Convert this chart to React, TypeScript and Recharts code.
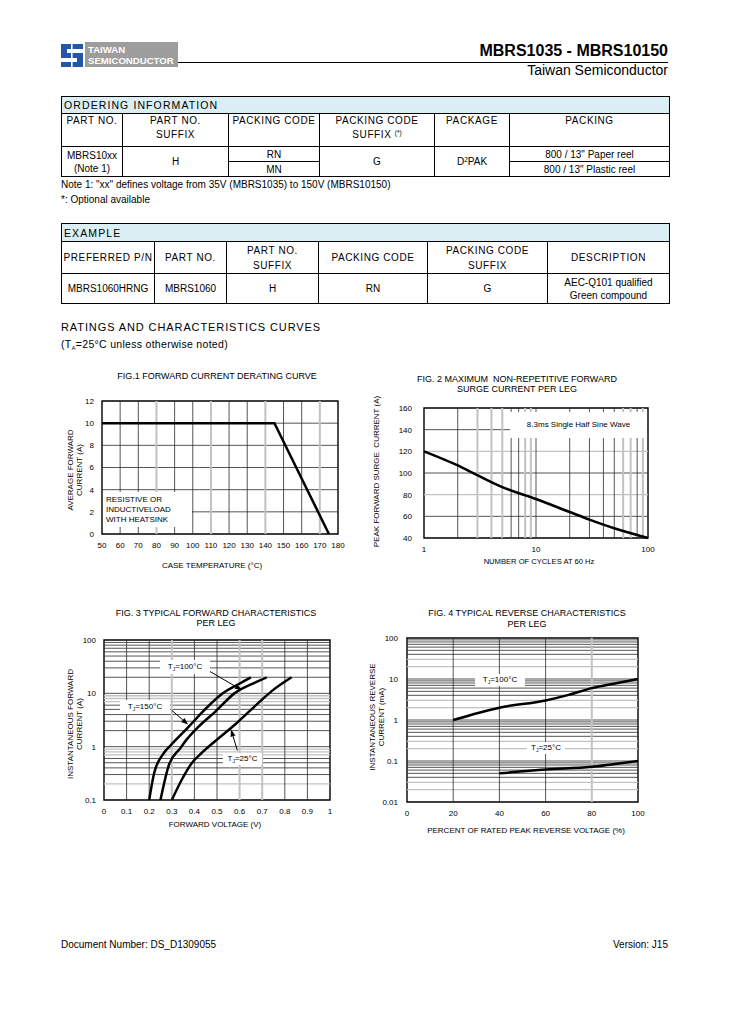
import React from 'react';
import { LineChart, Line, XAxis, YAxis, ReferenceLine, ReferenceArea } from 'recharts';

const FONT = '"Liberation Sans", Arial, Helvetica, sans-serif';
const DARK = '#2a2a2a';
const GRAY = '#c2c2c2';

// ---------- FIG.1 forward current derating ----------
const fig1Temp = [50, 145, 175];
const fig1Current = [10, 10, 0];
const fig1XTicks = [50, 60, 70, 80, 90, 100, 110, 120, 130, 140, 150, 160, 170, 180];
const fig1YTicks = [0, 2, 4, 6, 8, 10, 12];
const fig1GridXDark = [60, 70, 90, 100, 120, 130, 150, 160];
const fig1GridXGray = [80, 110, 140, 170];
const fig1GridY = [2, 4, 6, 8, 10];

// ---------- FIG.2 surge current ----------
const fig2Cycles = [1, 2, 3, 5, 10, 20, 30, 50, 100];
const fig2Surge = [120, 107, 98, 87, 76, 64, 57, 49, 40];
const fig2XTicks = [1, 10, 100];
const fig2YTicks = [40, 60, 80, 100, 120, 140, 160];
const fig2GridXDark = [2, 6, 7, 10, 20, 30, 40, 50, 80];
const fig2GridXGray = [3, 4, 5, 8, 9, 60, 70, 90];
const fig2GridYDark = [60, 100, 140];
const fig2GridYGray = [80, 120];

// ---------- FIG.3 forward characteristics ----------
const fig3V150 = [0.2, 0.222, 0.265, 0.295, 0.37, 0.447, 0.52, 0.594, 0.65];
const fig3I150 = [0.1, 0.32, 0.76, 1.06, 2.25, 5.0, 9.6, 14.8, 20];
const fig3V100 = [0.25, 0.287, 0.338, 0.368, 0.415, 0.494, 0.58, 0.668, 0.72];
const fig3I100 = [0.1, 0.45, 0.94, 1.4, 2.3, 4.6, 10.2, 15.9, 20];
const fig3V25 = [0.3, 0.344, 0.388, 0.432, 0.491, 0.58, 0.668, 0.742, 0.83];
const fig3I25 = [0.1, 0.24, 0.49, 0.76, 1.26, 2.6, 5.76, 11, 20];
const fig3XTicks = [0, 0.1, 0.2, 0.3, 0.4, 0.5, 0.6, 0.7, 0.8, 0.9, 1];
const fig3YTicks = [0.1, 1, 10, 100];
const fig3GridXDark = [0.1, 0.2, 0.4, 0.5, 0.8, 0.9];
const fig3GridXGray = [0.3, 0.6, 0.7];
const fig3GridYDark = [0.3, 0.4, 0.5, 0.6, 1, 2, 3, 4, 5, 6, 10, 20, 30, 40, 50, 60, 70, 80, 90];
const fig3GridYGray = [0.2, 0.7, 0.8, 0.9, 7, 8, 9];
const fig3Arrow100 = [{ x: 0.46, y: 27 }, { x: 0.61, y: 11.5 }];
const fig3Arrow150 = [{ x: 0.3, y: 4.8 }, { x: 0.372, y: 2.6 }];
const fig3Arrow25 = [{ x: 0.59, y: 0.85 }, { x: 0.562, y: 2.1 }];

// ---------- FIG.4 reverse characteristics ----------
const fig4P100 = [20, 40, 60, 70, 80, 90, 100];
const fig4I100 = [1, 2, 3, 4.1, 6, 7.8, 10];
const fig4P25 = [40, 60, 80, 90, 100];
const fig4I25 = [0.05, 0.062, 0.072, 0.085, 0.1];
const fig4XTicks = [0, 20, 40, 60, 80, 100];
const fig4YTicks = [0.01, 0.1, 1, 10, 100];
const fig4GridXDark = [20, 40, 60];
const fig4GridXGray = [80];
const fig4GridYDark = [0.04, 0.05, 0.06, 0.07, 0.08, 0.09, 0.1, 0.4, 0.5, 0.6, 0.7, 0.8, 0.9, 1, 4, 5, 6, 7, 8, 9, 10, 40, 50, 60, 70, 80, 90];
const fig4GridYGray = [0.02, 0.03, 0.2, 0.3, 2, 3, 20, 30];

const tickStyle = { fontSize: 8, fill: '#000', fontFamily: FONT };

const ArrowShape = (p: any) => {
  const { x1, y1, x2, y2 } = p;
  const ang = Math.atan2(y2 - y1, x2 - x1);
  const L = 7;
  const W = 2.6;
  const bx = x2 - L * Math.cos(ang);
  const by = y2 - L * Math.sin(ang);
  const pts = `${x2},${y2} ${bx - W * Math.sin(ang)},${by + W * Math.cos(ang)} ${bx + W * Math.sin(ang)},${by - W * Math.cos(ang)}`;
  return (
    <g>
      <line x1={x1} y1={y1} x2={bx} y2={by} stroke="#000" strokeWidth={1} />
      <polygon points={pts} fill="#000" />
    </g>
  );
};

const toData = (xs: number[], ys: number[]) => xs.map((x, i) => ({ x, y: ys[i] }));

const gridLines = (xd: number[], xg: number[], yd: number[], yg: number[]) => [
  ...yg.map((v) => <ReferenceLine key={'yg' + v} y={v} stroke={GRAY} strokeWidth={1.3} />),
  ...yd.map((v) => <ReferenceLine key={'yd' + v} y={v} stroke={DARK} strokeWidth={0.8} />),
  ...xg.map((v) => <ReferenceLine key={'xg' + v} x={v} stroke={GRAY} strokeWidth={2} />),
  ...xd.map((v) => <ReferenceLine key={'xd' + v} x={v} stroke={DARK} strokeWidth={0.8} />),
];

function Fig1() {
  return (
    <div style={{ position: 'absolute', left: 62, top: 391 }}>
      <LineChart width={286} height={173} margin={{ top: 10, right: 10, left: 0, bottom: 0 }}>
        <XAxis type="number" dataKey="x" domain={[50, 180]} ticks={fig1XTicks} interval={0} tickLine={false} axisLine={false} tick={tickStyle} height={30} />
        <YAxis type="number" dataKey="y" domain={[0, 12]} ticks={fig1YTicks} interval={0} tickLine={false} axisLine={false} tick={tickStyle} width={40} />
        {gridLines(fig1GridXDark, fig1GridXGray, fig1GridY, [])}
        <ReferenceArea x1={50} x2={180} y1={0} y2={12} fill="none" fillOpacity={0} stroke="#000" strokeWidth={1.4} />
        <Line data={toData(fig1Temp, fig1Current)} dataKey="y" type="linear" stroke="#000" strokeWidth={2.5} dot={false} isAnimationActive={false} />
      </LineChart>
    </div>
  );
}

function Fig2() {
  return (
    <div style={{ position: 'absolute', left: 384, top: 398 }}>
      <LineChart width={274} height={170} margin={{ top: 10, right: 10, left: 0, bottom: 0 }}>
        <XAxis type="number" scale="log" dataKey="x" domain={[1, 100]} ticks={fig2XTicks} interval={0} tickLine={false} axisLine={false} tick={tickStyle} height={30} />
        <YAxis type="number" dataKey="y" domain={[40, 160]} ticks={fig2YTicks} interval={0} tickLine={false} axisLine={false} tick={tickStyle} tickMargin={6} width={40} />
        {gridLines(fig2GridXDark, fig2GridXGray, fig2GridYDark, fig2GridYGray)}
        <ReferenceArea x1={1} x2={100} y1={40} y2={160} fill="none" fillOpacity={0} stroke="#000" strokeWidth={1.4} />
        <Line data={toData(fig2Cycles, fig2Surge)} dataKey="y" type="monotone" stroke="#000" strokeWidth={2.5} dot={false} isAnimationActive={false} />
      </LineChart>
    </div>
  );
}

function Fig3() {
  return (
    <div style={{ position: 'absolute', left: 64, top: 630 }}>
      <LineChart width={276} height={200} margin={{ top: 10, right: 10, left: 0, bottom: 0 }}>
        <XAxis type="number" dataKey="x" domain={[0, 1]} ticks={fig3XTicks} interval={0} tickLine={false} axisLine={false} tick={tickStyle} height={30} />
        <YAxis type="number" scale="log" dataKey="y" domain={[0.1, 100]} ticks={fig3YTicks} interval={0} tickLine={false} axisLine={false} tick={tickStyle} tickFormatter={(v: number) => String(v)} width={40} allowDataOverflow />
        {gridLines(fig3GridXDark, fig3GridXGray, fig3GridYDark, fig3GridYGray)}
        <ReferenceArea x1={0} x2={1} y1={0.1} y2={100} fill="none" fillOpacity={0} stroke="#000" strokeWidth={1.4} />
        <Line data={toData(fig3V150, fig3I150)} dataKey="y" type="monotone" stroke="#000" strokeWidth={2.5} dot={false} isAnimationActive={false} />
        <Line data={toData(fig3V100, fig3I100)} dataKey="y" type="monotone" stroke="#000" strokeWidth={2.5} dot={false} isAnimationActive={false} />
        <Line data={toData(fig3V25, fig3I25)} dataKey="y" type="monotone" stroke="#000" strokeWidth={2.5} dot={false} isAnimationActive={false} />
        <ReferenceLine segment={fig3Arrow100} shape={ArrowShape} />
        <ReferenceLine segment={fig3Arrow150} shape={ArrowShape} />
        <ReferenceLine segment={fig3Arrow25} shape={ArrowShape} />
      </LineChart>
    </div>
  );
}

function Fig4() {
  return (
    <div style={{ position: 'absolute', left: 367, top: 628 }}>
      <LineChart width={281} height={204} margin={{ top: 10, right: 10, left: 0, bottom: 0 }}>
        <XAxis type="number" dataKey="x" domain={[0, 100]} ticks={fig4XTicks} interval={0} tickLine={false} axisLine={false} tick={tickStyle} height={30} />
        <YAxis type="number" scale="log" dataKey="y" domain={[0.01, 100]} ticks={fig4YTicks} interval={0} tickLine={false} axisLine={false} tick={tickStyle} tickMargin={3} tickFormatter={(v: number) => String(v)} width={40} allowDataOverflow />
        {gridLines(fig4GridXDark, fig4GridXGray, fig4GridYDark, fig4GridYGray)}
        <ReferenceArea x1={0} x2={100} y1={0.01} y2={100} fill="none" fillOpacity={0} stroke="#000" strokeWidth={1.4} />
        <Line data={toData(fig4P100, fig4I100)} dataKey="y" type="monotone" stroke="#000" strokeWidth={2.5} dot={false} isAnimationActive={false} />
        <Line data={toData(fig4P25, fig4I25)} dataKey="y" type="monotone" stroke="#000" strokeWidth={2.5} dot={false} isAnimationActive={false} />
      </LineChart>
    </div>
  );
}

// ---------- text helpers ----------
type TProps = { x: number; y: number; fs?: number; lh?: number; anchor?: 'left' | 'center' | 'right'; ls?: number; bold?: boolean; children: React.ReactNode };
const Txt = ({ x, y, fs = 10, lh, anchor = 'left', ls = 0, bold = false, children }: TProps) => {
  const h = lh ?? Math.round(fs * 1.3);
  const base: React.CSSProperties = {
    position: 'absolute', top: y - h / 2, height: h, lineHeight: `${h}px`, fontSize: fs,
    letterSpacing: ls, fontWeight: bold ? 'bold' : 'normal', whiteSpace: 'pre',
  };
  if (anchor === 'left') return <div style={{ ...base, left: x }}>{children}</div>;
  if (anchor === 'right') return <div style={{ ...base, right: 729 - x, textAlign: 'right' }}>{children}</div>;
  return <div style={{ ...base, left: x - 200, width: 400, textAlign: 'center' }}>{children}</div>;
};

const Rot = ({ cx, cy, lines, fs = 8, lh = 9 }: { cx: number; cy: number; lines: string[]; fs?: number; lh?: number }) => {
  const w = 220;
  const h = lines.length * lh;
  return (
    <div style={{ position: 'absolute', left: cx - w / 2, top: cy - h / 2, width: w, height: h, transform: 'rotate(-90deg)', textAlign: 'center', fontSize: fs, lineHeight: `${lh}px`, whiteSpace: 'pre' }}>
      {lines.map((l, i) => <div key={i}>{l}</div>)}
    </div>
  );
};

const WBox = ({ l, t, w, h, children, align = 'center', fs = 8, lh = 10 }: { l: number; t: number; w: number; h: number; children: React.ReactNode; align?: 'center' | 'left'; fs?: number; lh?: number }) => (
  <div style={{ position: 'absolute', left: l, top: t, width: w, height: h, background: '#fff', fontSize: fs, lineHeight: `${lh}px`, display: 'flex', flexDirection: 'column', justifyContent: 'center', alignItems: align === 'center' ? 'center' : 'flex-start', paddingLeft: align === 'left' ? 3 : 0, boxSizing: 'border-box', whiteSpace: 'pre' }}>
    {children}
  </div>
);

const TJ = ({ t }: { t: string }) => (
  <span>T<span style={{ fontSize: 5, position: 'relative', top: 1.5 }}>J</span>={t}°C</span>
);

// ---------- table helpers ----------
type CellSpec = { x0: number; x1: number; y0: number; y1: number; c: React.ReactNode; align?: 'left' | 'center'; valign?: 'top' | 'middle'; bg?: string; fs?: number; ls?: number; lh?: number };
const Cell = ({ s }: { s: CellSpec }) => (
  <div style={{
    position: 'absolute', left: s.x0, top: s.y0, width: s.x1 - s.x0 + 1, height: s.y1 - s.y0 + 1,
    border: '1px solid #000', boxSizing: 'border-box', background: s.bg ?? '#fff',
    display: 'flex', flexDirection: 'column', justifyContent: s.valign === 'top' ? 'flex-start' : 'center',
    alignItems: s.align === 'left' ? 'flex-start' : 'center', paddingLeft: s.align === 'left' ? 2 : 0,
    fontSize: s.fs ?? 10, letterSpacing: s.ls ?? 0, lineHeight: `${s.lh ?? 13}px`, textAlign: 'center', whiteSpace: 'pre', overflow: 'visible',
  }}>
    {s.c}
  </div>
);

const BLUE_BG = '#daeef3';
const HDR = { fs: 10, ls: 0.6 };

const orderingCells: CellSpec[] = [
  { x0: 61, x1: 669, y0: 96, y1: 113, c: 'ORDERING INFORMATION', align: 'left', bg: BLUE_BG, fs: 10.5, ls: 1.1, lh: 16 },
  { x0: 61, x1: 122, y0: 113, y1: 146, c: 'PART NO.', valign: 'top', lh: 14, ...HDR },
  { x0: 122, x1: 228, y0: 113, y1: 146, c: 'PART NO.\nSUFFIX', valign: 'top', lh: 14, ...HDR },
  { x0: 228, x1: 319, y0: 113, y1: 146, c: 'PACKING CODE', valign: 'top', lh: 14, ...HDR },
  { x0: 319, x1: 434, y0: 113, y1: 146, c: <><span>PACKING CODE</span><span>SUFFIX <span style={{ fontSize: 6.5, letterSpacing: 0, position: 'relative', top: -3 }}>(*)</span></span></>, valign: 'top', lh: 14, ...HDR },
  { x0: 434, x1: 509, y0: 113, y1: 146, c: 'PACKAGE', valign: 'top', lh: 14, ...HDR },
  { x0: 509, x1: 669, y0: 113, y1: 146, c: 'PACKING', valign: 'top', lh: 14, ...HDR },
  { x0: 61, x1: 122, y0: 146, y1: 176, c: 'MBRS10xx\n(Note 1)' },
  { x0: 122, x1: 228, y0: 146, y1: 176, c: 'H' },
  { x0: 228, x1: 319, y0: 146, y1: 161, c: 'RN' },
  { x0: 228, x1: 319, y0: 161, y1: 176, c: 'MN' },
  { x0: 319, x1: 434, y0: 146, y1: 176, c: 'G' },
  { x0: 434, x1: 509, y0: 146, y1: 176, c: <span>D<span style={{ fontSize: 6.5, position: 'relative', top: -3 }}>2</span>PAK</span> },
  { x0: 509, x1: 669, y0: 146, y1: 161, c: '800 / 13" Paper reel' },
  { x0: 509, x1: 669, y0: 161, y1: 176, c: '800 / 13" Plastic reel' },
];

const exampleCells: CellSpec[] = [
  { x0: 61, x1: 669, y0: 223, y1: 241, c: 'EXAMPLE', align: 'left', bg: BLUE_BG, fs: 10.5, ls: 1.1, lh: 16 },
  { x0: 61, x1: 154, y0: 241, y1: 273, c: 'PREFERRED P/N', lh: 15, ...HDR },
  { x0: 154, x1: 226, y0: 241, y1: 273, c: 'PART NO.', lh: 15, ...HDR },
  { x0: 226, x1: 318, y0: 241, y1: 273, c: 'PART NO.\nSUFFIX', lh: 15, ...HDR },
  { x0: 318, x1: 427, y0: 241, y1: 273, c: 'PACKING CODE', lh: 15, ...HDR },
  { x0: 427, x1: 547, y0: 241, y1: 273, c: 'PACKING CODE\nSUFFIX', lh: 15, ...HDR },
  { x0: 547, x1: 669, y0: 241, y1: 273, c: 'DESCRIPTION', lh: 15, ...HDR },
  { x0: 61, x1: 154, y0: 273, y1: 303, c: 'MBRS1060HRNG' },
  { x0: 154, x1: 226, y0: 273, y1: 303, c: 'MBRS1060' },
  { x0: 226, x1: 318, y0: 273, y1: 303, c: 'H' },
  { x0: 318, x1: 427, y0: 273, y1: 303, c: 'RN' },
  { x0: 427, x1: 547, y0: 273, y1: 303, c: 'G' },
  { x0: 547, x1: 669, y0: 273, y1: 303, c: 'AEC-Q101 qualified\nGreen compound' },
];

export default function App() {
  return (
    <div style={{ position: 'absolute', left: 0, top: 0, width: 729, height: 1032, background: '#fff', color: '#000', fontFamily: FONT, overflow: 'hidden' }}>
      {/* header */}
      <svg width={22} height={23} style={{ position: 'absolute', left: 61, top: 44 }}>
        <path d="M0 0H22V5H6V9H22V23H0V18H16V14H0Z" fill="#2456a6" />
        <rect x={10} y={0} width={1.6} height={23} fill="#fff" />
      </svg>
      <div style={{ position: 'absolute', left: 85, top: 42, width: 93, height: 25, background: '#9d9d9d', color: '#fff', fontWeight: 'bold', fontSize: 9.6, lineHeight: '11px', paddingLeft: 3, paddingTop: 2, boxSizing: 'border-box' }}>
        TAIWAN<br />SEMICONDUCTOR
      </div>
      <div style={{ position: 'absolute', left: 178, top: 62, width: 490, height: 1, background: '#000' }} />
      <Txt x={668} y={51} fs={16} lh={18} anchor="right" bold>MBRS1035 - MBRS10150</Txt>
      <Txt x={668} y={70} fs={14} lh={16} anchor="right">Taiwan Semiconductor</Txt>

      {/* tables */}
      {orderingCells.map((s, i) => <Cell key={'o' + i} s={s} />)}
      <Txt x={61} y={184} fs={10}>Note 1: "xx" defines voltage from 35V (MBRS1035) to 150V (MBRS10150)</Txt>
      <Txt x={61} y={199} fs={10}>*: Optional available</Txt>
      {exampleCells.map((s, i) => <Cell key={'e' + i} s={s} />)}

      <Txt x={61} y={327} fs={11} ls={0.9}>RATINGS AND CHARACTERISTICS CURVES</Txt>
      <Txt x={61} y={344} fs={10.5} ls={0.3}>(T<span style={{ fontSize: 6, position: 'relative', top: 2 }}>A</span>=25°C unless otherwise noted)</Txt>

      {/* FIG 1 */}
      <Txt x={217} y={376} fs={9} anchor="center">FIG.1 FORWARD CURRENT DERATING CURVE</Txt>
      <Fig1 />
      <WBox l={103} t={492} w={89} h={35} align="left">
        {'RESISTIVE OR'}<br />{'INDUCTIVELOAD'}<br />{'WITH HEATSINK'}
      </WBox>
      <Rot cx={74.5} cy={470} lines={['AVERAGE FORWARD', 'CURRENT (A)']} />
      <Txt x={212} y={566} fs={8} anchor="center">CASE TEMPERATURE (°C)</Txt>

      {/* FIG 2 */}
      <Txt x={517} y={379} fs={9} lh={10} anchor="center">FIG. 2 MAXIMUM  NON-REPETITIVE FORWARD</Txt>
      <Txt x={517} y={389} fs={9} lh={10} anchor="center">SURGE CURRENT PER LEG</Txt>
      <Fig2 />
      <WBox l={510} t={412} w={137} h={26}>8.3ms Single Half Sine Wave</WBox>
      <Rot cx={376} cy={471} lines={['PEAK FORWARD SURGE  CURRENT (A)']} />
      <Txt x={539} y={562} fs={7.6} anchor="center">NUMBER OF CYCLES AT 60 Hz</Txt>

      {/* FIG 3 */}
      <Txt x={216} y={613} fs={9} lh={10} anchor="center">FIG. 3 TYPICAL FORWARD CHARACTERISTICS</Txt>
      <Txt x={216} y={623} fs={9} lh={10} anchor="center">PER LEG</Txt>
      <Fig3 />
      <WBox l={160} t={660} w={50} h={14}><TJ t="100" /></WBox>
      <WBox l={120} t={700} w={50} h={14}><TJ t="150" /></WBox>
      <WBox l={223} t={753} w={39} h={12}><TJ t="25" /></WBox>
      <Rot cx={74.5} cy={724} lines={['INSTANTANEOUS FORWARD', 'CURRENT (A)']} />
      <Txt x={215} y={825} fs={8} anchor="center">FORWARD VOLTAGE (V)</Txt>

      {/* FIG 4 */}
      <Txt x={527} y={613} fs={9} lh={10} anchor="center">FIG. 4 TYPICAL REVERSE CHARACTERISTICS</Txt>
      <Txt x={527} y={624} fs={9} lh={10} anchor="center">PER LEG</Txt>
      <Fig4 />
      <WBox l={475} t={674} w={50} h={12}><TJ t="100" /></WBox>
      <WBox l={527} t={742} w={38} h={12}><TJ t="25" /></WBox>
      <Rot cx={376.5} cy={717} lines={['INSTANTANEOUS REVERSE', 'CURRENT (mA)']} />
      <Txt x={526} y={831} fs={8} anchor="center">PERCENT OF RATED PEAK REVERSE VOLTAGE (%)</Txt>

      {/* footer */}
      <Txt x={61} y={944} fs={10}>Document Number: DS_D1309055</Txt>
      <Txt x={668} y={944} fs={10} anchor="right">Version: J15</Txt>
    </div>
  );
}
